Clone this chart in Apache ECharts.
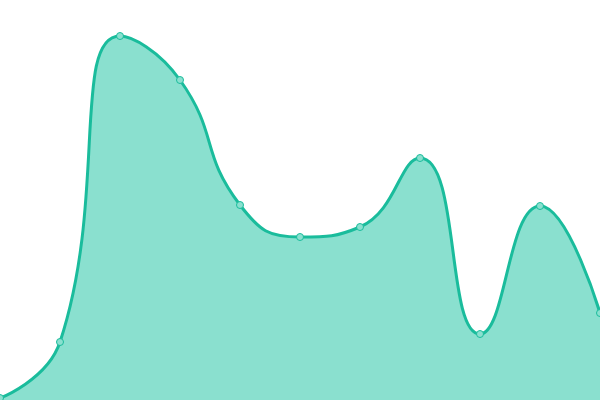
<!DOCTYPE html>
<html>
<head>
<meta charset="utf-8">
<script src="https://cdn.jsdelivr.net/npm/echarts@6/dist/echarts.min.js"></script>
<style>
  html, body { margin: 0; padding: 0; background: #fff; }
  #chart { width: 600px; height: 400px; }
</style>
</head>
<body>
<div id="chart"></div>
<script>
// 数据
var categories = ['1', '2', '3', '4', '5', '6', '7', '8', '9', '10', '11']
var values = [2, 58, 364, 320, 195, 163, 173, 242, 66, 194, 87]

var myChart = echarts.init(document.getElementById('chart'))

var option = {
  animation: false,
  grid: {
    left: 0,
    right: 0,
    top: 0,
    bottom: 0,
    containLabel: false,
  },
  xAxis: {
    type: 'category',
    data: categories,
    boundaryGap: false,
    show: false,
  },
  yAxis: {
    type: 'value',
    min: 0,
    max: 400,
    show: false,
  },
  series: [
    {
      type: 'line',
      data: values,
      smooth: true,
      symbol: 'circle',
      symbolSize: 7,
      lineStyle: {
        color: '#1abc9c',
        width: 3,
      },
      itemStyle: {
        color: '#8ae0cf',
        borderColor: '#1abc9c',
        borderWidth: 1,
      },
      areaStyle: {
        color: '#8ae0cf',
        opacity: 1,
      },
    },
  ],
}

myChart.setOption(option)
</script>
</body>
</html>
